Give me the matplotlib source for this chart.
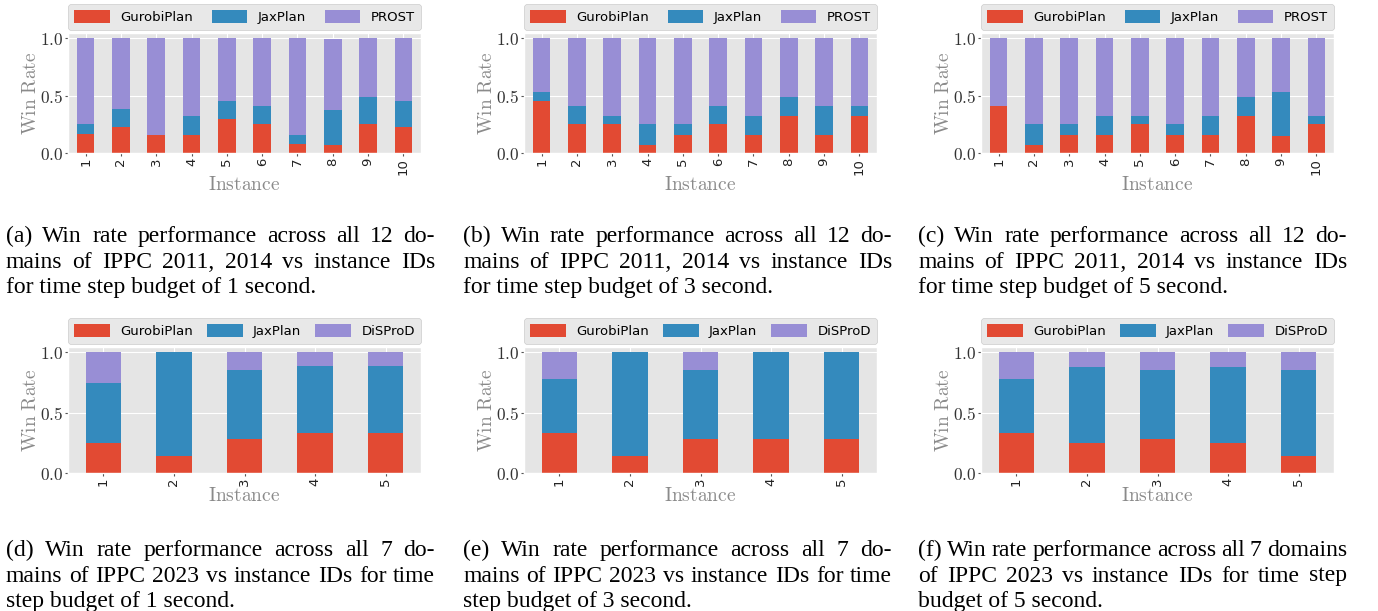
import numpy as np
import matplotlib.pyplot as plt

# win rates per instance
inst10 = ['1', '2', '3', '4', '5', '6', '7', '8', '9', '10']
inst5 = ['1', '2', '3', '4', '5']

gurobi_a = [0.167, 0.23, 0.16, 0.16, 0.30, 0.25, 0.08, 0.07, 0.25, 0.223]
jax_a = [0.083, 0.15, 0.0, 0.165, 0.155, 0.16, 0.08, 0.307, 0.24, 0.232]
prost_a = [0.75, 0.62, 0.84, 0.675, 0.545, 0.59, 0.84, 0.62, 0.51, 0.545]

gurobi_b = [0.455, 0.25, 0.25, 0.07, 0.16, 0.25, 0.16, 0.325, 0.16, 0.325]
jax_b = [0.078, 0.16, 0.075, 0.18, 0.09, 0.16, 0.165, 0.165, 0.25, 0.085]
prost_b = [0.467, 0.59, 0.675, 0.75, 0.75, 0.59, 0.675, 0.51, 0.59, 0.59]

gurobi_c = [0.41, 0.07, 0.16, 0.16, 0.25, 0.16, 0.16, 0.325, 0.145, 0.25]
jax_c = [0.0, 0.18, 0.09, 0.165, 0.075, 0.09, 0.165, 0.165, 0.388, 0.075]
prost_c = [0.59, 0.75, 0.75, 0.675, 0.675, 0.75, 0.675, 0.51, 0.467, 0.675]

gurobi_d = [0.25, 0.14, 0.286, 0.333, 0.333]
jax_d = [0.5, 0.86, 0.571, 0.556, 0.556]
disprod_d = [0.25, 0.0, 0.143, 0.111, 0.111]

gurobi_e = [0.333, 0.14, 0.286, 0.286, 0.286]
jax_e = [0.445, 0.86, 0.571, 0.714, 0.714]
disprod_e = [0.222, 0.0, 0.143, 0.0, 0.0]

gurobi_f = [0.333, 0.25, 0.286, 0.25, 0.143]
jax_f = [0.445, 0.625, 0.571, 0.625, 0.714]
disprod_f = [0.222, 0.125, 0.143, 0.125, 0.143]

captions = [
    ["(a) Win rate performance across all 12 do-",
     "mains of IPPC 2011, 2014 vs instance IDs",
     "for time step budget of 1 second."],
    ["(b) Win rate performance across all 12 do-",
     "mains of IPPC 2011, 2014 vs instance IDs",
     "for time step budget of 3 second."],
    ["(c) Win rate performance across all 12 do-",
     "mains of IPPC 2011, 2014 vs instance IDs",
     "for time step budget of 5 second."],
    ["(d) Win rate performance across all 7 do-",
     "mains of IPPC 2023 vs instance IDs for time",
     "step budget of 1 second."],
    ["(e) Win rate performance across all 7 do-",
     "mains of IPPC 2023 vs instance IDs for time",
     "step budget of 3 second."],
    ["(f) Win rate performance across all 7 domains",
     "of IPPC 2023 vs instance IDs for time step",
     "budget of 5 second."],
]

plt.style.use('ggplot')
plt.rcParams['mathtext.fontset'] = 'cm'
colors = ['#E24A33', '#348ABD', '#988ED5']

W, H = 1378, 611
fig = plt.figure(figsize=(W / 100, H / 100), dpi=100)


def stacked(rect, labels, series, names):
    ax = fig.add_axes(rect)
    x = np.arange(len(labels))
    bottom = np.zeros(len(labels))
    for vals, name, c in zip(series, names, colors):
        ax.bar(x, vals, 0.5, bottom=bottom, color=c, label=name)
        bottom = bottom + np.array(vals)
    ax.set_xlim(-0.5, len(labels) - 0.5)
    ax.set_ylim(0, 1.045)
    ax.set_xticks(x, labels, rotation=90, fontsize=9.5, color='#222222')
    ax.set_yticks([0, 0.5, 1.0], [r'$0.0$', r'$0.5$', r'$1.0$'], fontsize=12.5, color='#333333')
    ax.tick_params(length=2, pad=1.5, color='#555555')
    ax.set_ylabel(r'$\mathrm{Win\ Rate}$', fontsize=14, color='#8a8a8a', labelpad=0)
    ax.set_xlabel(r'$\mathrm{Instance}$', fontsize=14, color='#8a8a8a', labelpad=0)
    ax.legend(loc='lower left', bbox_to_anchor=(0, 1.025, 1, 0.2), mode='expand',
              ncol=3, borderaxespad=0, fontsize=9.5, handlelength=2.7,
              handleheight=1.1, borderpad=0.45, facecolor='#E8E8E8',
              edgecolor='#cccccc', framealpha=1)
    return ax


def caption(x0, y0, lines, width=429, size=17, lh=25.5):
    r = fig.canvas.get_renderer()
    for k, line in enumerate(lines):
        y = 1 - (y0 + k * lh) / H
        kw = dict(fontsize=size, family='Liberation Serif', va='baseline', color='black')
        if k == len(lines) - 1:
            fig.text(x0 / W, y, line, **kw)
            continue
        words = line.split(' ')
        texts = [fig.text(0, y, w, **kw) for w in words]
        widths = [t.get_window_extent(r).width for t in texts]
        gap = (width - sum(widths)) / (len(words) - 1)
        x = x0
        for t, w in zip(texts, widths):
            t.set_x(x / W)
            x += w + gap


top = ['GurobiPlan', 'JaxPlan', 'PROST']
bot = ['GurobiPlan', 'JaxPlan', 'DiSProD']
lefts = [68, 524, 981]
aw = 353

stacked([lefts[0] / W, 1 - 153 / H, aw / W, 120 / H], inst10, [gurobi_a, jax_a, prost_a], top)
stacked([lefts[1] / W, 1 - 153 / H, aw / W, 120 / H], inst10, [gurobi_b, jax_b, prost_b], top)
stacked([lefts[2] / W, 1 - 153 / H, aw / W, 120 / H], inst10, [gurobi_c, jax_c, prost_c], top)
stacked([lefts[0] / W, 1 - 473 / H, aw / W, 126 / H], inst5, [gurobi_d, jax_d, disprod_d], bot)
stacked([lefts[1] / W, 1 - 473 / H, aw / W, 126 / H], inst5, [gurobi_e, jax_e, disprod_e], bot)
stacked([lefts[2] / W, 1 - 473 / H, aw / W, 126 / H], inst5, [gurobi_f, jax_f, disprod_f], bot)

cx = [6, 463, 918]
for i in range(3):
    caption(cx[i], 242, captions[i])
    caption(cx[i], 556, captions[i + 3])

fig.savefig('out.png', dpi=100)
